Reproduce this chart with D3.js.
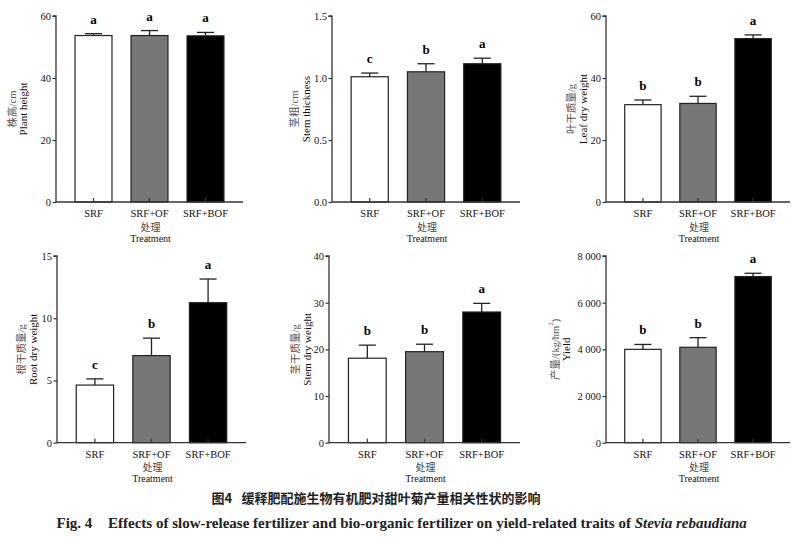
<!DOCTYPE html>
<html>
<head>
<meta charset="utf-8">
<script src="https://cdn.jsdelivr.net/npm/d3@7/dist/d3.min.js"></script>
<style>
  html, body { margin: 0; padding: 0; background: #fff; }
  svg { display: block; }
</style>
</head>
<body>
<svg id="chart" width="807" height="538"></svg>
<script>
// ---------------- DATA ----------------
const categories = ["SRF", "SRF+OF", "SRF+BOF"];

const plantHeight      = [53.7, 53.7, 53.6];
const plantHeightErr   = [0.6, 1.6, 1.1];
const plantHeightSig   = ["a", "a", "a"];
const plantHeightTicks = [0, 20, 40, 60];

const stemThick      = [1.01, 1.05, 1.115];
const stemThickErr   = [0.03, 0.065, 0.045];
const stemThickSig   = ["c", "b", "a"];
const stemThickTicks = [0, 0.5, 1.0, 1.5];

const leafDry      = [31.4, 31.8, 52.7];
const leafDryErr   = [1.5, 2.3, 1.2];
const leafDrySig   = ["b", "b", "a"];
const leafDryTicks = [0, 20, 40, 60];

const rootDry      = [4.63, 7.0, 11.25];
const rootDryErr   = [0.5, 1.4, 1.9];
const rootDrySig   = ["c", "b", "a"];
const rootDryTicks = [0, 5, 10, 15];

const stemDry      = [18.1, 19.5, 28.0];
const stemDryErr   = [2.8, 1.6, 1.85];
const stemDrySig   = ["b", "b", "a"];
const stemDryTicks = [0, 10, 20, 30, 40];

const yieldVal    = [4000, 4090, 7120];
const yieldErr    = [210, 410, 140];
const yieldSig    = ["b", "b", "a"];
const yieldTicks  = [0, 2000, 4000, 6000, 8000];

const xTitleCn = "处理";
const xTitleEn = "Treatment";
const captionCnFig = "图4";
const captionCn = "缓释肥配施生物有机肥对甜叶菊产量相关性状的影响";
const captionEnFig = "Fig. 4";
const captionEn = "Effects of slow-release fertilizer and bio-organic fertilizer on yield-related traits of ";
const captionEnItalic = "Stevia rebaudiana";

// ---------------- LAYOUT ----------------
const barFill   = ["#ffffff", "#777777", "#000000"];
const serif = "'Liberation Serif', 'Times New Roman', serif";
const cjkSerif = "'Liberation Serif', 'Noto Sans CJK SC', serif";

const panels = [
  { vals: plantHeight, err: plantHeightErr, sig: plantHeightSig, ticks: plantHeightTicks, fmt: d3.format("d"),
    cn: "株高/cm", en: "Plant height", ax: 56, axEnd: 243, top: 16, bot: 202, cnOff: -44, enOff: -33 },
  { vals: stemThick, err: stemThickErr, sig: stemThickSig, ticks: stemThickTicks, fmt: d3.format(".1f"),
    cn: "茎粗/cm", en: "Stem thickness", ax: 332, axEnd: 520, top: 16, bot: 202, cnOff: -38, enOff: -26 },
  { vals: leafDry, err: leafDryErr, sig: leafDrySig, ticks: leafDryTicks, fmt: d3.format("d"),
    cn: "叶干质量/g", en: "Leaf dry weight", ax: 606, axEnd: 790, top: 16, bot: 202, cnOff: -35, enOff: -23.5 },
  { vals: rootDry, err: rootDryErr, sig: rootDrySig, ticks: rootDryTicks, fmt: d3.format("d"),
    cn: "根干质量/g", en: "Root dry weight", ax: 57, axEnd: 246, top: 256, bot: 442.7, cnOff: -36, enOff: -24 },
  { vals: stemDry, err: stemDryErr, sig: stemDrySig, ticks: stemDryTicks, fmt: d3.format("d"),
    cn: "茎干质量/g", en: "Stem dry weight", ax: 329, axEnd: 520, top: 256, bot: 442.7, cnOff: -34.5, enOff: -22.5 },
  { vals: yieldVal, err: yieldErr, sig: yieldSig, ticks: yieldTicks,
    fmt: d => d === 0 ? "0" : d3.format(",")(d).replace(/,/g, " "),
    cn: "产量/(kg/hm", sup: "2", cnTail: ")", en: "Yield", ax: 606, axEnd: 790, top: 256, bot: 442.7, cnOff: -51, enOff: -40 }
];

const svg = d3.select("#chart");

panels.forEach(p => {
  const g = svg.append("g");
  const yMax = p.ticks[p.ticks.length - 1];
  const y = d3.scaleLinear().domain([0, yMax]).range([p.bot, p.top]);
  const x = d3.scaleBand().domain(categories).range([p.ax, p.axEnd]).padding(0.34);

  // bars
  g.selectAll("rect.bar").data(categories).enter().append("rect")
    .attr("x", d => x(d))
    .attr("y", (d, i) => y(p.vals[i]))
    .attr("width", x.bandwidth())
    .attr("height", (d, i) => p.bot - y(p.vals[i]))
    .attr("fill", (d, i) => barFill[i])
    .attr("stroke", "#222")
    .attr("stroke-width", 1.2);

  // error bars (upper only)
  const cx = d => x(d) + x.bandwidth() / 2;
  g.selectAll("line.err").data(categories).enter().append("line")
    .attr("x1", cx).attr("x2", cx)
    .attr("y1", (d, i) => y(p.vals[i]))
    .attr("y2", (d, i) => y(p.vals[i] + p.err[i]))
    .attr("stroke", "#222")
    .attr("stroke-width", 1.3);
  g.selectAll("line.cap").data(categories).enter().append("line")
    .attr("x1", d => cx(d) - 8.5).attr("x2", d => cx(d) + 8.5)
    .attr("y1", (d, i) => y(p.vals[i] + p.err[i]))
    .attr("y2", (d, i) => y(p.vals[i] + p.err[i]))
    .attr("stroke", "#222")
    .attr("stroke-width", 1.3);

  // significance letters
  g.selectAll("text.sig").data(categories).enter().append("text")
    .attr("x", cx)
    .attr("y", (d, i) => y(p.vals[i] + p.err[i]) - 10)
    .attr("text-anchor", "middle")
    .attr("font-family", serif)
    .attr("font-weight", "bold")
    .attr("font-size", 13)
    .text((d, i) => p.sig[i]);

  // y axis
  const yAxis = d3.axisLeft(y).tickValues(p.ticks).tickFormat(p.fmt).tickSize(3.5).tickPadding(1.5);
  const ya = g.append("g").attr("transform", `translate(${p.ax},0)`).call(yAxis);
  ya.select(".domain").attr("stroke", "#333").attr("stroke-width", 1.3).attr("d", `M-3.5,${p.top}H0V${p.bot}`);
  ya.selectAll(".tick line").attr("stroke", "#333").attr("stroke-width", 1.2);
  ya.selectAll(".tick text").attr("font-family", serif).attr("font-size", 10.5).attr("fill", "#111");

  // x axis
  const xAxis = d3.axisBottom(x).tickSize(-4).tickPadding(7.5);
  const xa = g.append("g").attr("transform", `translate(0,${p.bot})`).call(xAxis);
  xa.select(".domain").attr("stroke", "#333").attr("stroke-width", 1.3).attr("d", `M${p.ax},0H${p.axEnd}`);
  xa.selectAll(".tick line").attr("stroke", "#333").attr("stroke-width", 1.2);
  xa.selectAll(".tick text").attr("font-family", serif).attr("font-size", 10.5).attr("fill", "#111")
    .attr("dy", "0.71em");

  // x title
  const xMid = (p.ax + p.axEnd) / 2 + 1;
  g.append("text").attr("x", xMid).attr("y", p.bot + 28.5)
    .attr("text-anchor", "middle").attr("font-family", cjkSerif).attr("font-size", 10)
    .attr("fill", "#444").text(xTitleCn);
  g.append("text").attr("x", xMid).attr("y", p.bot + 39.5)
    .attr("text-anchor", "middle").attr("font-family", serif).attr("font-size", 10)
    .attr("fill", "#111").text(xTitleEn);

  // y title
  const yMid = (p.top + p.bot) / 2;
  const cnT = g.append("text")
    .attr("transform", `translate(${p.ax + p.cnOff},${yMid}) rotate(-90)`)
    .attr("text-anchor", "middle").attr("dominant-baseline", "central")
    .attr("font-family", cjkSerif).attr("font-size", 10.5).attr("fill", "#555");
  cnT.append("tspan").text(p.cn);
  if (p.sup) {
    cnT.append("tspan").attr("font-size", 7).attr("dy", -4).text(p.sup);
    cnT.append("tspan").attr("dy", 4).text(p.cnTail);
  }
  g.append("text")
    .attr("transform", `translate(${p.ax + p.enOff},${yMid}) rotate(-90)`)
    .attr("text-anchor", "middle").attr("dominant-baseline", "central")
    .attr("font-family", serif).attr("font-size", 11).attr("fill", "#111")
    .text(p.en);
});

// ---------------- CAPTION ----------------
svg.append("text").attr("x", 211.5).attr("y", 503)
  .attr("font-family", "'Noto Sans CJK SC', sans-serif").attr("font-weight", "bold")
  .attr("font-size", 13).attr("fill", "#222").text(captionCnFig);
svg.append("text").attr("x", 241.5).attr("y", 503)
  .attr("font-family", "'Noto Sans CJK SC', sans-serif").attr("font-weight", "bold")
  .attr("font-size", 13).attr("fill", "#222").text(captionCn);

svg.append("text").attr("x", 56.5).attr("y", 528)
  .attr("font-family", serif).attr("font-weight", "bold")
  .attr("font-size", 15).attr("fill", "#222").text(captionEnFig);
const en = svg.append("text").attr("x", 108).attr("y", 528)
  .attr("font-family", serif).attr("font-weight", "bold")
  .attr("font-size", 15).attr("fill", "#222");
en.append("tspan").text(captionEn);
en.append("tspan").attr("font-style", "italic").text(captionEnItalic);
</script>
</body>
</html>
